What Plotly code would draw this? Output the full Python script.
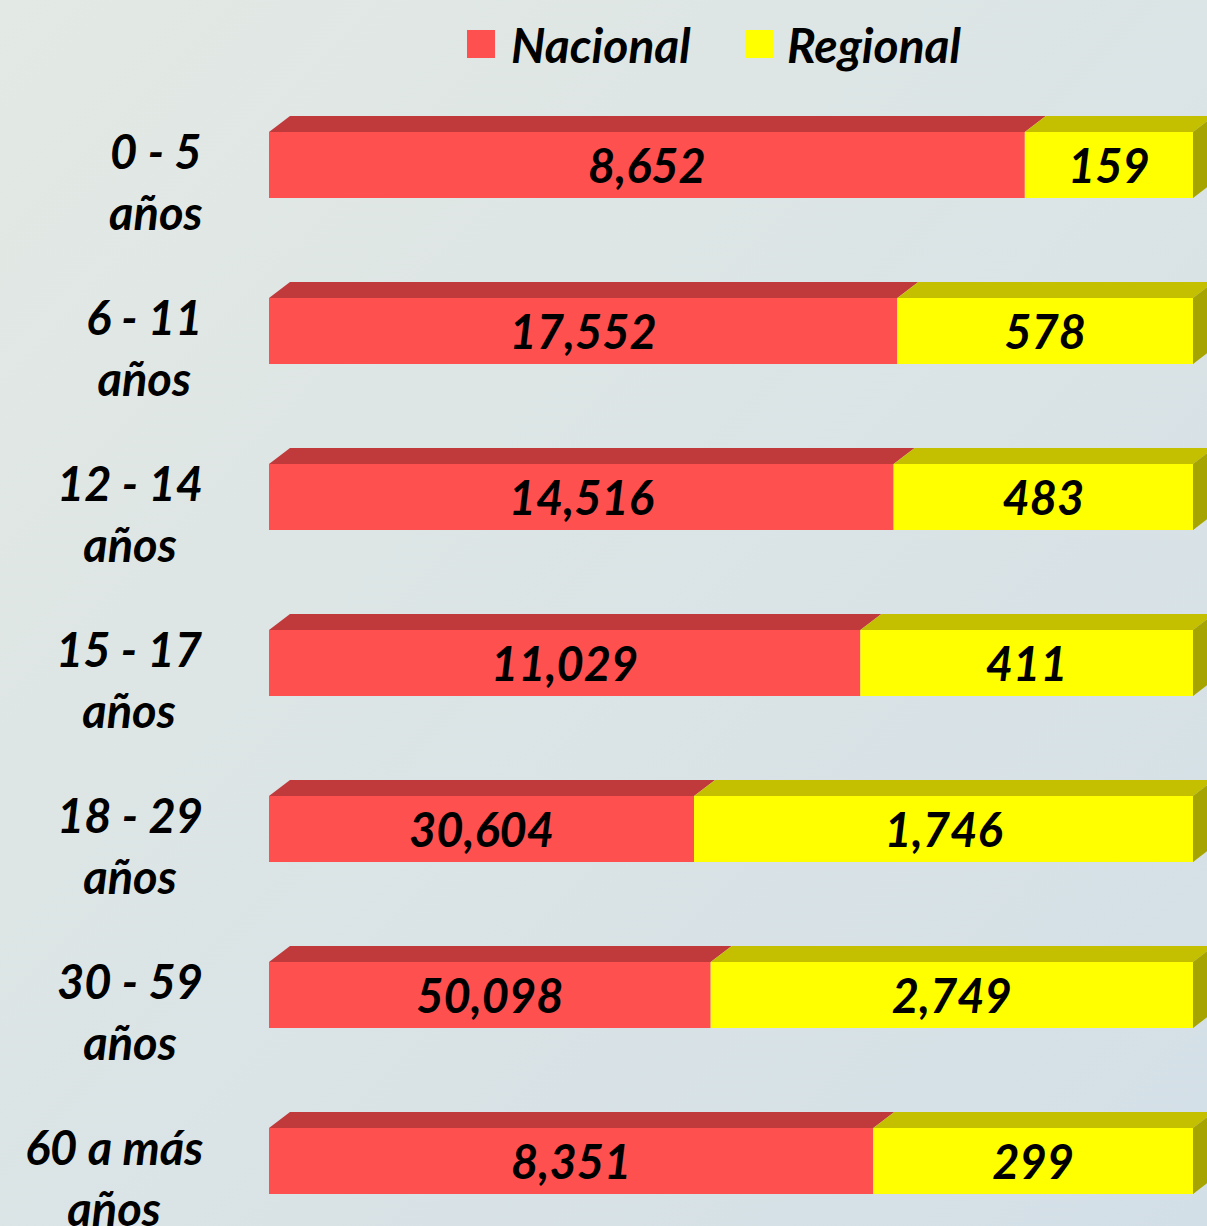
import base64
import plotly.graph_objects as go

# ---------------- data ----------------
categories = ["0 - 5<br>años", "6 - 11<br>años", "12 - 14<br>años", "15 - 17<br>años",
              "18 - 29<br>años", "30 - 59<br>años", "60 a más<br>años"]
nacional_values = [8652, 17552, 14516, 11029, 30604, 50098, 8351]
regional_values = [159, 578, 483, 411, 1746, 2749, 299]
# segment lengths as drawn (share of the 100% bar)
nacional_share = [81.8, 68.0, 67.6, 64.0, 46.0, 47.8, 65.4]
regional_share = [100 - s for s in nacional_share]
series_names = ["Nacional", "Regional"]

# ---------------- style ----------------
W, H = 1207, 1226
ML = 269
RED, RED_TOP = "#FF5050", "#C03A3C"
YEL, YEL_TOP, YEL_SIDE = "#FFFF00", "#C4C000", "#A6A400"
FONT = "Lato"
PX_PER_UNIT_X = 924 / 100.0
ROW_PX = 166.0
FIRST_CENTER_PX = 165.0
BAR_W = 66 / ROW_PX
DX = 21 / PX_PER_UNIT_X
DY = 16 / ROW_PX

ypos = list(range(len(categories)))

label_font = dict(family=FONT, size=47, color="black", weight="bold", style="italic")

fig = go.Figure()
fig.add_trace(go.Bar(
    y=ypos, x=nacional_share, base=[0] * len(ypos), orientation="h", width=BAR_W,
    name=series_names[0], marker=dict(color=RED, line=dict(width=0)),
    text=[f"{v:,}" for v in nacional_values], textposition="inside",
    insidetextanchor="middle", constraintext="none", textfont=label_font,
    showlegend=False, hoverinfo="skip"))
fig.add_trace(go.Bar(
    y=ypos, x=regional_share, base=nacional_share, orientation="h", width=BAR_W,
    name=series_names[1], marker=dict(color=YEL, line=dict(width=0)),
    text=[f"{v:,}" for v in regional_values], textposition="inside",
    insidetextanchor="middle", constraintext="none", textfont=label_font,
    showlegend=False, hoverinfo="skip"))

shapes = []
for i, y in enumerate(ypos):
    top = y - BAR_W / 2
    bot = y + BAR_W / 2
    r = nacional_share[i]
    end = nacional_share[i] + regional_share[i]
    shapes.append(dict(type="path", xref="x", yref="y", line=dict(width=0), fillcolor=RED_TOP,
                       path=f"M0,{top} L{DX},{top-DY} L{r+DX},{top-DY} L{r},{top} Z"))
    shapes.append(dict(type="path", xref="x", yref="y", line=dict(width=0), fillcolor=YEL_TOP,
                       path=f"M{r},{top} L{r+DX},{top-DY} L{end+DX},{top-DY} L{end},{top} Z"))
    shapes.append(dict(type="path", xref="x", yref="y", line=dict(width=0), fillcolor=YEL_SIDE,
                       path=f"M{end},{top} L{end+DX},{top-DY} L{end+DX},{bot-DY} L{end},{bot} Z"))

plot_w = W - ML
def px_to_paper_x(px):
    return (px - ML) / plot_w
def px_to_paper_y(py):
    return 1 - py / H

# manual legend (large squares)
legend_items = [(series_names[0], RED, 467, 509), (series_names[1], YEL, 745, 785)]
annotations = []
for name, col, sq_x, tx in legend_items:
    shapes.append(dict(type="rect", xref="paper", yref="paper", line=dict(width=0), fillcolor=col,
                       x0=px_to_paper_x(sq_x), x1=px_to_paper_x(sq_x + 28),
                       y0=px_to_paper_y(58), y1=px_to_paper_y(30)))
    annotations.append(dict(text=name, xref="paper", yref="paper", x=px_to_paper_x(tx),
                            y=px_to_paper_y(44), xanchor="left", yanchor="middle", showarrow=False,
                            font=dict(family=FONT, size=48, color="black", weight="bold", style="italic")))

for i, c in enumerate(categories):
    annotations.append(dict(text=c, xref="paper", yref="y", x=px_to_paper_x(205), y=ypos[i],
                            xanchor="right", yanchor="middle", align="center", showarrow=False,
                            yshift=-16, font=label_font))

svg = (f'<svg xmlns="http://www.w3.org/2000/svg" width="{W}" height="{H}">'
       '<defs><linearGradient id="g" x1="0" y1="0" x2="1" y2="1">'
       '<stop offset="0" stop-color="#E3E9E4"/><stop offset="1" stop-color="#D3DFE7"/>'
       '</linearGradient></defs><rect width="100%" height="100%" fill="url(#g)"/></svg>')
bg_src = "data:image/svg+xml;base64," + base64.b64encode(svg.encode()).decode()

y_top = -FIRST_CENTER_PX / ROW_PX
y_bot = y_top + H / ROW_PX

fig.update_layout(
    width=W, height=H,
    margin=dict(l=ML, r=0, t=0, b=0),
    barmode="overlay",
    paper_bgcolor="#DCE4E6", plot_bgcolor="rgba(0,0,0,0)",
    xaxis=dict(range=[0, plot_w / PX_PER_UNIT_X], visible=False, fixedrange=True),
    yaxis=dict(range=[y_bot, y_top], visible=False, fixedrange=True),
    shapes=shapes, annotations=annotations,
    images=[dict(source=bg_src, xref="paper", yref="paper", x=px_to_paper_x(0), y=1,
                 sizex=W / plot_w, sizey=1, sizing="stretch", layer="below", xanchor="left",
                 yanchor="top")],
    showlegend=False,
)

fig.write_html("out.html", config={"displayModeBar": False},
               post_script="document.body.style.margin='0';document.body.style.overflow='hidden';")
